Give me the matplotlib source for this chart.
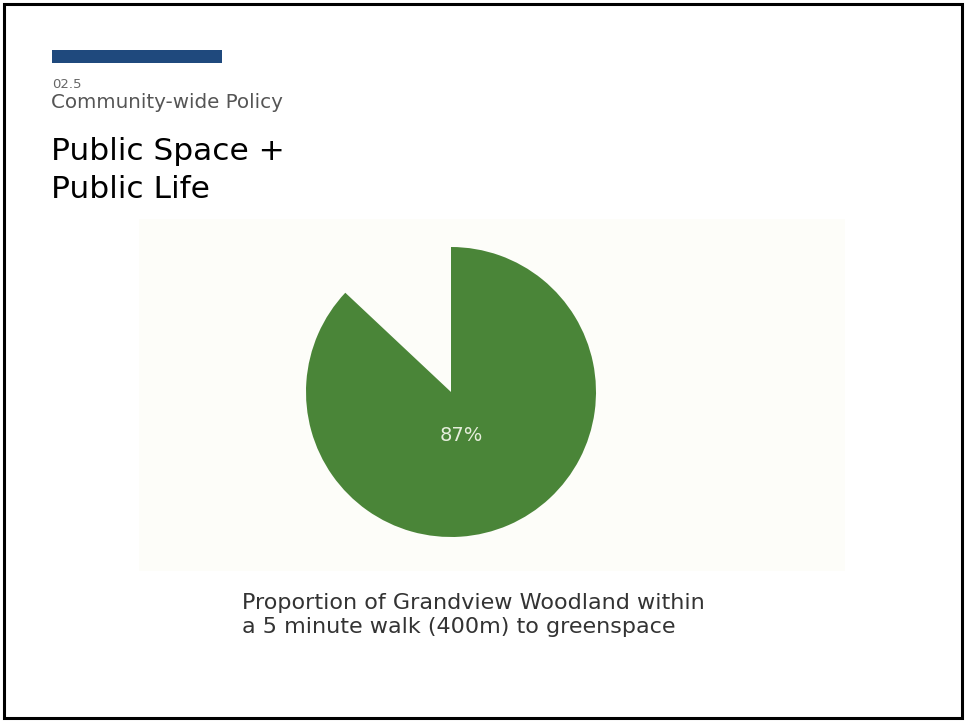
import matplotlib
matplotlib.use('Agg')
import matplotlib.pyplot as plt
from matplotlib.patches import Rectangle

# data
labels = ['Within 5 min walk', 'Outside']
shares = [87, 13]
pct_label = '87%'
section_no = '02.5'
section = 'Community-wide Policy'
title_lines = ['Public Space +', 'Public Life']
caption = 'Proportion of Grandview Woodland within\na 5 minute walk (400m) to greenspace'

W, H = 965, 721
plt.rcParams['font.family'] = ['DejaVu Sans']
fig = plt.figure(figsize=(W / 100, H / 100), dpi=100)
fig.patch.set_facecolor('white')

def fx(x):
    return x / W

def fy(y):
    return 1 - y / H

# slide border
fig.patches.append(Rectangle((fx(4), fy(718)), fx(958), 714 / H, transform=fig.transFigure,
                             fill=False, edgecolor='black', linewidth=2.2))
# blue bar
fig.patches.append(Rectangle((fx(52), fy(63)), fx(170), 13 / H, transform=fig.transFigure,
                             facecolor='#1f497d', edgecolor='none'))
# off-white image panel
fig.patches.append(Rectangle((fx(139), fy(571)), fx(706), 352 / H, transform=fig.transFigure,
                             facecolor='#fdfdf9', edgecolor='none', zorder=-5))

fig.text(fx(52), fy(84), section_no, fontsize=9.5, color='#666666', va='center')
fig.text(fx(51), fy(103), section, fontsize=14.3, color='#555555', va='center')
fig.text(fx(51), fy(151), title_lines[0], fontsize=22.5, color='black', va='center')
fig.text(fx(51), fy(189), title_lines[1], fontsize=22.5, color='black', va='center')

# pie
cx, cy, r = 451, 392, 145
ax = fig.add_axes([fx(cx - r), fy(cy + r), fx(2 * r), 2 * r / H], zorder=2)
ax.patch.set_visible(False)
ax.pie(shares, colors=['#4a8538', 'none'], startangle=90, counterclock=False,
       wedgeprops=dict(linewidth=0))
ax.set_xlim(-1, 1)
ax.set_ylim(-1, 1)
ax.set_aspect('equal')
ax.axis('off')
ax.text(0.07, -0.3, pct_label, fontsize=14, color='#e6eedc', ha='center', va='center')

fig.text(fx(242), fy(615), caption, fontsize=16, color='#333333', va='center',
         linespacing=1.25)

fig.savefig('out.png', dpi=100)
